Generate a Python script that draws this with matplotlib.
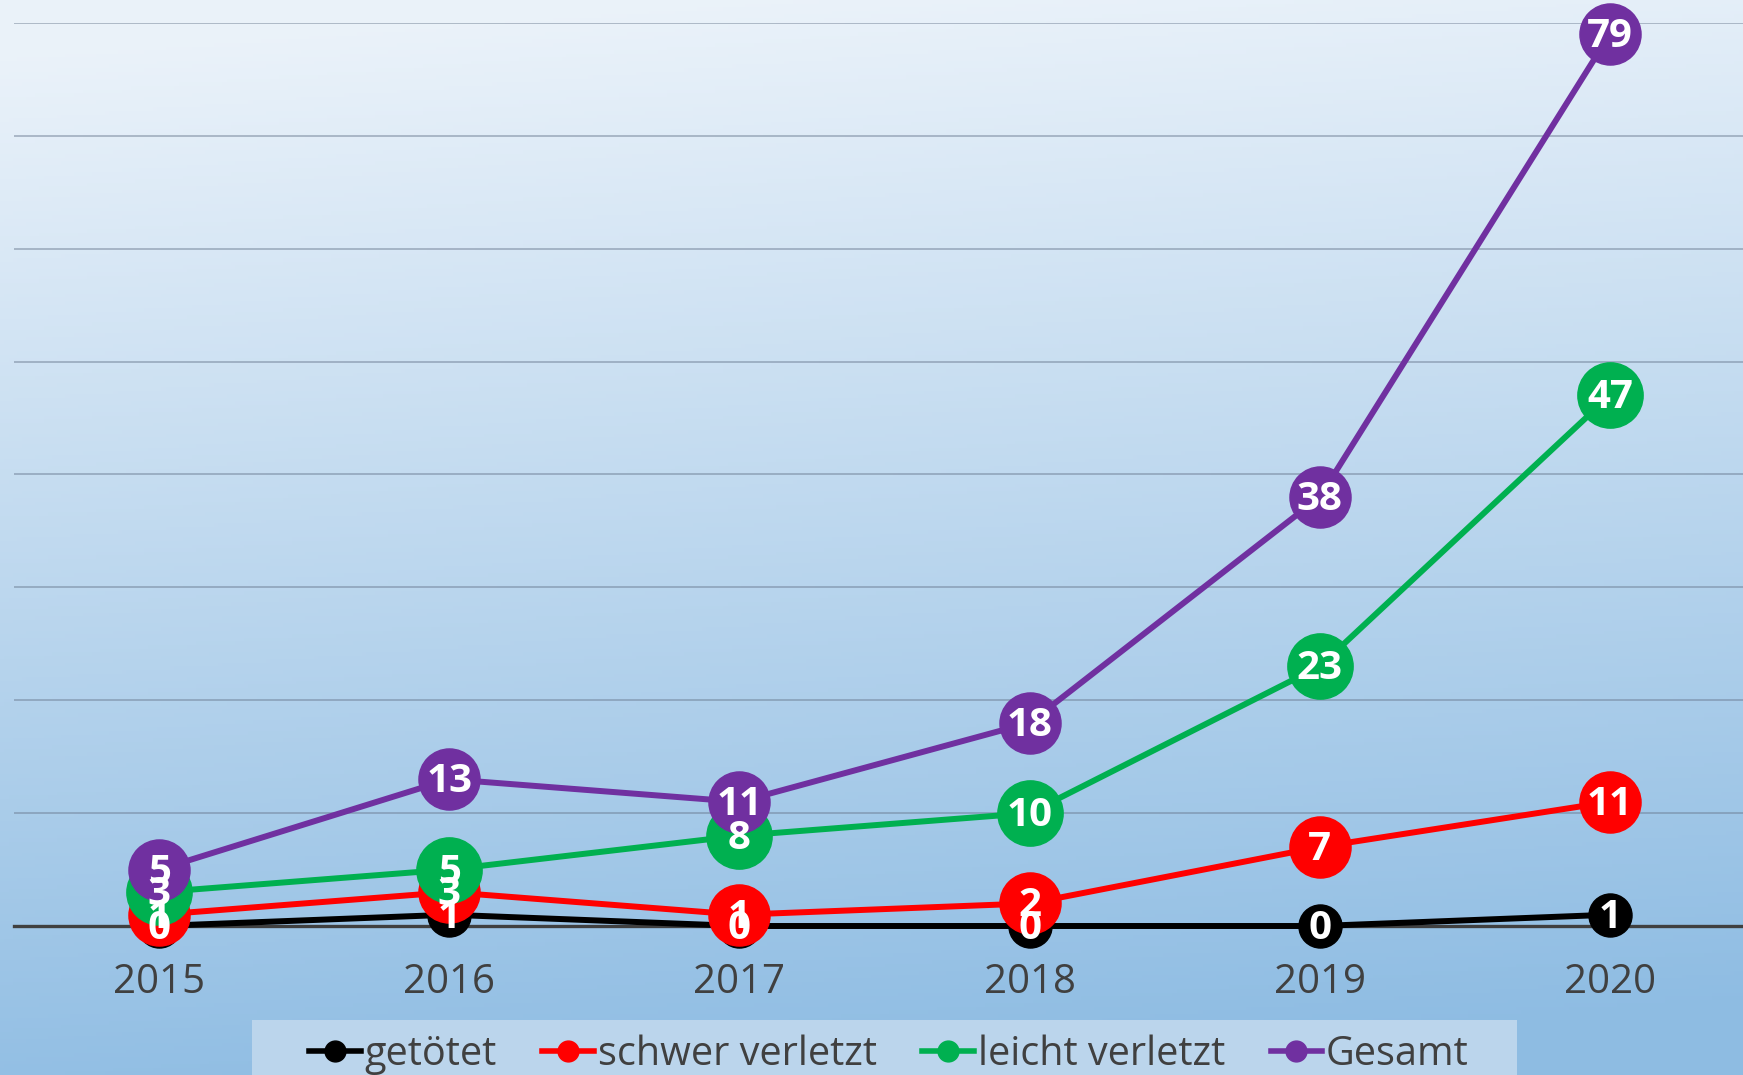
import matplotlib
matplotlib.use('Agg')
from matplotlib import pyplot as plt
from matplotlib.lines import Line2D
from matplotlib.patches import Rectangle
import numpy as np

plt.rcParams['font.family'] = ['Open Sans', 'DejaVu Sans']

years = ['2015', '2016', '2017', '2018', '2019', '2020']
getoetet = [0, 1, 0, 0, 0, 1]
schwer = [1, 3, 1, 2, 7, 11]
leicht = [3, 5, 8, 10, 23, 47]
gesamt = [5, 13, 11, 18, 38, 79]

series = [
    ('getötet', getoetet, 'black', 31),
    ('schwer verletzt', schwer, '#ff0000', 44),
    ('leicht verletzt', leicht, '#00b050', 47),
    ('Gesamt', gesamt, '#7030a0', 44),
]

fig = plt.figure(figsize=(17.43, 10.75), dpi=100)

# background gradient
bg = fig.add_axes([0, 0, 1, 1], zorder=-10)
yy, xx = np.mgrid[0:1:300j, 0:1:400j]
t = np.clip(yy + 0.12 * xx - 0.05, 0, 1)
top = np.array([0.92, 0.95, 0.98])
bot = np.array([0.56, 0.74, 0.89])
img = top[None, None, :] * (1 - t[..., None]) + bot[None, None, :] * t[..., None]
bg.imshow(img, aspect='auto', extent=[0, 1, 0, 1], origin='upper')
bg.axis('off')

ax = fig.add_axes([14 / 1743, 1 - 926 / 1075, 1741 / 1743, 1 - 23 / 1075 - (1 - 926 / 1075)])
ax.set_facecolor('none')
x = np.arange(len(years))

for k, (name, vals, col, ms) in enumerate(series):
    ax.plot(x, vals, '-', color=col, lw=4.3, marker='o', ms=ms, mec=col,
            zorder=3 + k, clip_on=False, solid_capstyle='round')

for name, vals, col, ms in series:
    for xi, v in zip(x, vals):
        ax.annotate(str(v), (xi, v), xytext=(0, -1.8), textcoords='offset points',
                    ha='center', va='center', color='white',
                    fontsize=29, fontweight='bold', zorder=20, annotation_clip=False)

ax.set_xlim(-0.5, 5.5)
ax.set_ylim(0, 80)
ax.set_yticks(np.arange(10, 81, 10))
ax.yaxis.grid(True, color='#6a7a90', alpha=0.55, lw=1.2)
ax.set_axisbelow(True)
ax.axhline(0, color='#404040', lw=2.4, zorder=2, clip_on=False)
ax.set_xticks(x)
ax.set_xticklabels(years)
ax.tick_params(axis='x', length=0, pad=26, labelsize=29, labelcolor='#404040')
ax.tick_params(axis='y', length=0, labelleft=False)
for s in ax.spines.values():
    s.set_visible(False)

# legend
fig.patches.append(Rectangle((252 / 1743, 0), (1517 - 252) / 1743, 55 / 1075,
                             transform=fig.transFigure, facecolor='#bbd5ec',
                             edgecolor='none', zorder=-5))
handles = [Line2D([], [], color=c, lw=4, marker='o', ms=15) for _, _, c, _ in series]
fig.legend(handles, [s[0] for s in series], ncol=4, loc='center',
           bbox_to_anchor=(0.510, 0.019), frameon=False, fontsize=28.5,
           labelcolor='#404040', handlelength=1.3, handletextpad=0.1,
           columnspacing=1.15)

fig.savefig('out.png', dpi=100)
